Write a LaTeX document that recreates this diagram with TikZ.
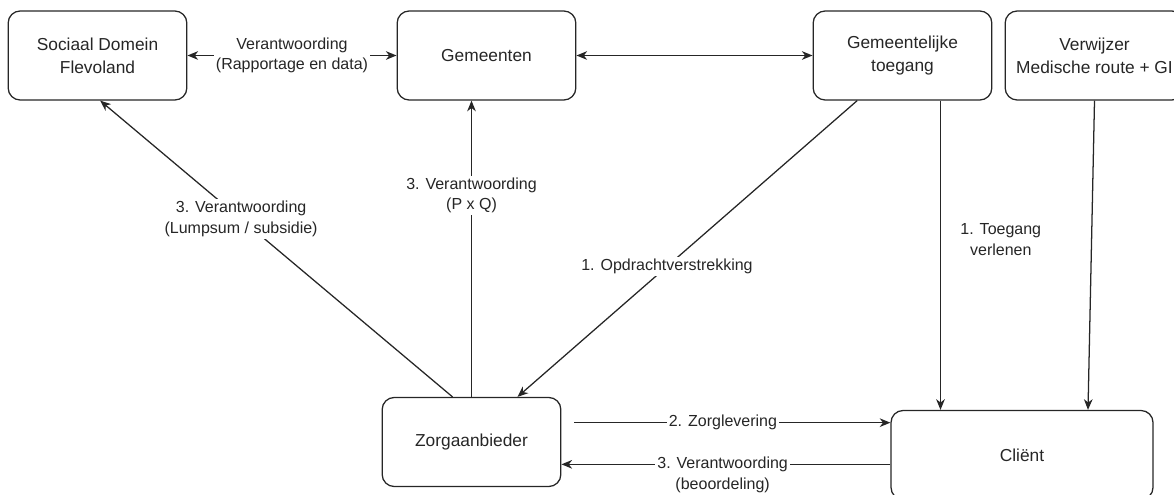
\documentclass[tikz,border=0pt]{standalone}
\usepackage{fontspec}
\setmainfont{Liberation Sans}
\usetikzlibrary{arrows.meta}
\begin{document}
\begin{tikzpicture}[x=0.75pt,y=-0.75pt,line width=0.95pt,
	>={Stealth[length=8pt,width=6.5pt,inset=2.5pt]},
	vak/.style={draw=black!85,rounded corners=9pt,minimum width=134pt,minimum height=66.75pt,
		align=center,font=\fontsize{13}{17}\selectfont,text=black!85},
	lab/.style={font=\fontsize{12}{15.5}\selectfont,align=center,text=black!85,fill=white,inner sep=1.5pt}]%SCHEMA ZORG
	\useasboundingbox (0,0) rectangle (1174,495);
	\node[vak] (sd) at (97.5,55.5) {Sociaal Domein\\Flevoland};
	\node[vak] (gem) at (486.5,55.5) {Gemeenten};
	\node[vak] (tg) at (902.5,55.5) {Gemeentelijke\\toegang};
	\node[vak] (vw) at (1094.5,55.5) {Verwijzer\\Medische route + GI};
	\node[vak] (za) at (471.5,442) {Zorgaanbieder};
	\node[vak,minimum width=196.5pt] (cl) at (1022,455) {Cliënt};
	\coordinate (tgb) at ([xshift=28.5pt]tg.south);
	\coordinate (zgo) at ([shift={(9.75pt,14.5pt)}]za.east);
	\coordinate (clw) at ([yshift=-7pt]cl.west);
	\draw[black!85,<->] (sd) -- (gem) node[lab,midway]{Verantwoording\\(Rapportage en data)};
	\draw[black!85,<->] (gem) -- (tg);
	\draw[black!85,->] ([xshift=-14.25pt]za.north) -- ([xshift=2pt]sd.south)
		node[lab,pos=0.6]{3. Verantwoording\\(Lumpsum / subsidie)};
	\draw[black!85,->] (za.north) -- (za.north |- gem.south) node[lab,pos=0.68]{3. Verantwoording\\(P x Q)};
	\draw[black!85,->] ([xshift=-34pt]tg.south) -- ([xshift=34.5pt]za.north)
		node[lab,pos=0.56]{1. Opdrachtverstrekking};
	\draw[black!85,->] (tgb) -- (tgb |- cl.north) node[lab,pos=0.45,right,xshift=13pt]{1. Toegang\\verlenen};
	\draw[black!85,->] (vw.south) -- ([xshift=49.5pt]cl.north);
	\draw[black!85,->] (zgo) -- (zgo -| cl.west) node[lab,pos=0.47]{2. Zorglevering};
	\draw[black!85,->] (clw) -- (clw -| za.east) node[lab,pos=0.51,yshift=-7.9pt]{3. Verantwoording\\(beoordeling)};
\end{tikzpicture}
\end{document}
